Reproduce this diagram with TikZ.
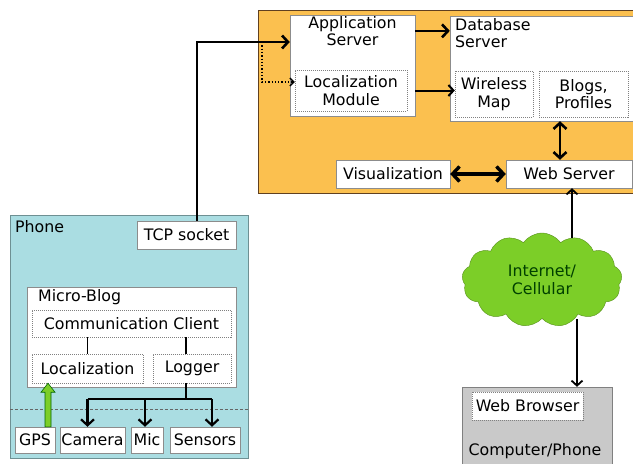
\documentclass[tikz,border=0pt]{standalone}
\usepackage{fontspec}
\setmainfont{DejaVu Sans}
\usetikzlibrary{arrows.meta,shapes.symbols}
\definecolor{srvorange}{RGB}{251,192,79}
\definecolor{phonecyan}{RGB}{170,221,226}
\definecolor{cloudgreen}{RGB}{124,206,40}
\begin{document}
\begin{tikzpicture}[x=1pt,y=-1pt,font=\fontsize{15.8}{17.5}\selectfont,
    box/.style={draw=black!45,fill=white,inner sep=0pt,align=center},
    sub/.style={draw=black!50,dash pattern=on 1pt off 1pt,fill=white,inner sep=0pt,align=center},
    wire/.style={line width=2.6pt,-{Straight Barb[length=6pt,width=13pt]}}]
  \useasboundingbox (0,0) rectangle (633,464);
  % server side
  \node[draw=black!50!brown,fill=srvorange,minimum width=382,minimum height=183] (srv) at (449,101.5) {};
  \node[box,minimum width=125,minimum height=101] (as) at (352.5,65.5) {};
  \node[anchor=north,align=center,inner sep=1pt] (ast) at (as.north) {Application\\Server};
  \node[sub,minimum width=112,minimum height=41] (lm) at (351,90.5) {Localization\\Module};
  \node[box,minimum width=190,minimum height=105] (db) at (545,68.5) {};
  \node[anchor=north west,align=left,inner sep=1pt] (dbt) at (454,17) {Database\\Server};
  \node[sub,minimum width=78,minimum height=46] (wm) at (494,94) {Wireless\\Map};
  \node[sub,minimum width=89,minimum height=46] (bp) at (583.5,94) {Blogs,\\Profiles};
  \node[box,minimum width=114,minimum height=28] (vis) at (393,174) {Visualization};
  \node[box,minimum width=126,minimum height=28] (ws) at (569,174) {Web Server};
  % phone
  \node[draw=black!35!phonecyan,fill=phonecyan,minimum width=238,minimum height=243] (phone) at (129,336.5) {};
  \node[anchor=north west,inner sep=1pt] (pht) at (14,219) {Phone};
  \node[box,minimum width=99,minimum height=28] (tcp) at (186.5,235) {TCP socket};
  \node[box,minimum width=209,minimum height=100] (mb) at (131.5,337) {};
  \node[anchor=north west,inner sep=1pt] (mbt) at (37,288) {Micro-Blog};
  \node[sub,minimum width=199,minimum height=27] (cc) at (131.5,323.5) {Communication Client};
  \node[sub,minimum width=111,minimum height=29] (loc) at (87.5,368.5) {Localization};
  \node[sub,minimum width=78,minimum height=29] (log) at (192,368.5) {Logger};
  \node[box,minimum width=40,minimum height=26] (gps) at (35,440) {GPS};
  \node[box,minimum width=65,minimum height=26] (cam) at (92.5,440) {Camera};
  \node[box,minimum width=32,minimum height=26] (mic) at (147,440) {Mic};
  \node[box,minimum width=70,minimum height=26] (sen) at (205,440) {Sensors};
  \draw[black!60,densely dashed] (phone.west |- 0,409) -- (phone.east |- 0,409);
  % network and client
  \node[cloud,cloud puffs=13,cloud puff arc=110,aspect=1.7,draw=cloudgreen!70!black,fill=cloudgreen,
    minimum width=160,minimum height=94,align=center,text=green!25!black] (net) at (542,280) {Internet/\\Cellular};
  \node[draw=black!50,fill=black!21,minimum width=150,minimum height=83] (cp) at (537,428.5) {};
  \node[sub,minimum width=111,minimum height=28] (wb) at (527.5,406) {Web Browser};
  \node[inner sep=1pt] (cpt) at (535,451) {Computer/Phone};
  % connectors
  \coordinate (up) at (197,42); \coordinate (dt) at (262,42); \coordinate (dd) at (262,82);
  \draw[wire] (up |- tcp.north) -- (up) -- (as.west |- up);
  \draw[line width=1.3pt,dotted,-{Straight Barb[length=4pt,width=8pt]}] (dt) -- (dd) -- (lm.west |- dd);
  \draw[wire] (as.east |- ast) -- (db.west |- ast);
  \draw[line width=2pt,-{Straight Barb[length=5pt,width=11pt]}] (as.east |- lm.east) -- (wm.west |- lm.east);
  \draw[line width=2.6pt,{Straight Barb[length=6pt,width=13pt]}-{Straight Barb[length=6pt,width=13pt]}]
    ([xshift=-9pt]ws.north) -- ([xshift=-9pt]ws.north |- db.south);
  \draw[line width=3.4pt,{Straight Barb[length=7pt,width=15pt]}-{Straight Barb[length=7pt,width=15pt]}] (vis) -- (ws);
  \draw[line width=1.8pt,-{Straight Barb[length=5pt,width=11pt]}] ([xshift=3pt]ws.south |- 0,238) -- ([xshift=3pt]ws.south);
  \draw[line width=1.8pt,-{Straight Barb[length=5pt,width=11pt]}] ([xshift=35pt]net.south) -- ([xshift=35pt]net.south |- cp.north);
  \draw[line width=1.8pt] (cc.south -| loc.north) -- (loc.north);
  \draw[line width=1.8pt] ([xshift=-6pt]log.north |- cc.south) -- ([xshift=-6pt]log.north);
  \coordinate (ga) at ([xshift=13pt]gps.north); \coordinate (gb) at (ga |- loc.south);
  \filldraw[fill=cloudgreen,draw=green!40!black,line width=0.6pt]
    ([xshift=-3pt]ga) -- ([xshift=-3pt,yshift=-9pt]gb) -- ([xshift=-7pt,yshift=-9pt]gb) -- (gb)
    -- ([xshift=7pt,yshift=-9pt]gb) -- ([xshift=3pt,yshift=-9pt]gb) -- ([xshift=3pt]ga) -- cycle;
  \coordinate (jn) at (186,399);
  \draw[line width=2.4pt] ([xshift=-6pt]log.south) -- (jn);
  \draw[line width=2.4pt] ([xshift=-5pt]cam.north |- jn) -- ([xshift=7pt]sen.north |- jn);
  \foreach \n/\s in {cam/-5pt,mic/-2pt,sen/7pt}
    \draw[wire,line width=2.2pt] ([xshift=\s]\n.north |- jn) -- ([xshift=\s]\n.north);
\end{tikzpicture}
\end{document}
